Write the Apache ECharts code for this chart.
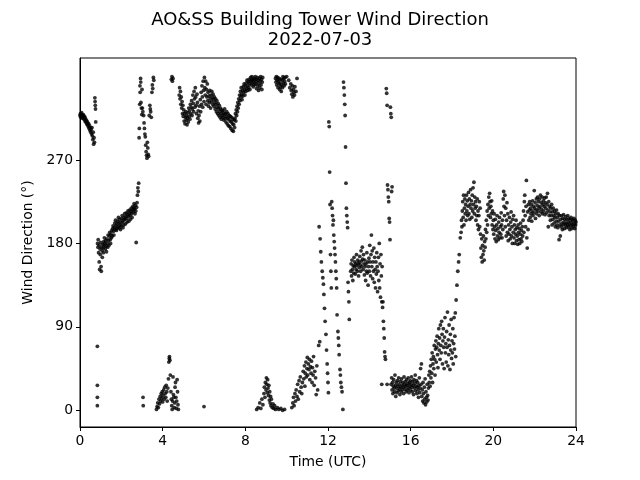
<!DOCTYPE html>
<html><head><meta charset="utf-8">
<script src="https://cdn.jsdelivr.net/npm/echarts@6/dist/echarts.min.js"></script>
<style>html,body{margin:0;padding:0;background:#fff}#c{width:640px;height:480px}</style>
</head><body><div id="c"></div>
<script>
const titleText = 'AO&SS Building Tower Wind Direction\n2022-07-03';
const xLabel = 'Time (UTC)';
const yLabel = 'Wind Direction (°)';
const xTicks = [0, 4, 8, 12, 16, 20, 24];
const yTicks = [0, 90, 180, 270];

// [hour UTC, direction deg]
const segEarly = [[0.00,318],[0.02,320],[0.04,316],[0.06,319],[0.08,321],[0.10,317],[0.12,315],[0.14,318],[0.16,319],[0.18,316],[0.20,314],[0.22,317],[0.24,312],[0.26,315],[0.28,311],[0.30,313],[0.32,309],[0.34,312],[0.36,308],[0.38,310],[0.40,306],[0.42,309],[0.44,304],[0.46,307],[0.48,302],[0.50,305],[0.52,300],[0.54,303],[0.56,298],[0.58,305],[0.60,296],[0.62,292],[0.64,300],[0.66,287],[0.68,294],[0.70,289],[0.72,337],[0.73,333],[0.74,329],[0.75,325],[0.76,311],[0.84,69],[0.84,27],[0.84,14],[0.84,5]];

const segRise = [[0.85,180],[0.87,176],[0.88,184],[0.90,170],[0.92,178],[0.93,160],[0.95,152],[0.97,174],[0.98,168],[1.00,181],[1.02,155],[1.03,150],[1.05,176],[1.07,172],[1.08,165],[1.10,179],[1.12,175],[1.13,170],[1.15,182],[1.17,178],[1.18,186],[1.20,180],[1.22,174],[1.24,183],[1.26,177],[1.28,171],[1.30,185],[1.32,180],[1.34,176],[1.36,189],[1.38,183],[1.40,178],[1.42,188],[1.44,192],[1.46,184],[1.48,180],[1.50,190],[1.52,186],[1.54,194],[1.56,188],[1.58,196],[1.60,199],[1.62,193],[1.64,189],[1.66,197],[1.68,202],[1.70,195],[1.72,205],[1.74,199],[1.76,194],[1.78,201],[1.80,196],[1.82,204],[1.84,198],[1.86,208],[1.88,202],[1.90,197],[1.92,206],[1.94,200],[1.96,195],[1.98,203],[2.00,199],[2.02,207],[2.04,210],[2.06,203],[2.08,197],[2.10,205],[2.12,200],[2.14,208],[2.16,212],[2.18,206],[2.20,201],[2.22,209],[2.24,213],[2.26,207],[2.28,203],[2.30,211],[2.32,215],[2.34,209],[2.36,204],[2.38,212],[2.40,216],[2.42,210],[2.44,206],[2.46,214],[2.48,218],[2.50,212],[2.52,208],[2.54,216],[2.56,220],[2.58,214],[2.60,218],[2.62,223],[2.64,217],[2.66,212],[2.68,221],[2.70,215],[2.72,181],[2.74,219],[2.76,224],[2.78,232],[2.80,240],[2.82,236],[2.84,245]];

const segJump = [[2.86,294],[2.87,304],[2.89,330],[2.90,350],[2.91,343],[2.93,358],[2.94,354],[2.95,332],[2.97,326],[2.99,319],[3.00,346],[3.02,326],[3.04,322],[3.05,14],[3.06,5],[3.08,318],[3.10,310],[3.12,304],[3.14,298],[3.16,295],[3.18,286],[3.20,279],[3.22,275],[3.24,272],[3.26,289],[3.28,283],[3.30,276],[3.32,274],[3.35,318],[3.38,329],[3.40,325],[3.42,322],[3.45,316],[3.48,343],[3.50,351],[3.52,347],[3.55,359],[3.57,356],[4.42,357],[4.45,360],[4.47,355],[4.50,358]];

const segLowMorning = [[3.70,1],[3.73,4],[3.76,8],[3.79,3],[3.82,12],[3.85,7],[3.88,15],[3.90,10],[3.93,18],[3.96,13],[3.98,20],[4.00,9],[4.02,16],[4.05,22],[4.07,12],[4.10,25],[4.12,18],[4.15,14],[4.17,27],[4.20,20],[4.22,10],[4.25,24],[4.28,34],[4.30,52],[4.32,56],[4.33,58],[4.35,54],[4.37,38],[4.40,20],[4.42,12],[4.44,5],[4.46,1],[4.48,10],[4.50,36],[4.52,17],[4.54,14],[4.56,3],[4.58,8],[4.60,25],[4.62,30],[4.64,14],[4.66,2],[4.68,10],[4.70,33],[4.72,20],[4.74,6],[4.76,1],[6.00,4]];

const segNorth = [[4.80,340],[4.82,348],[4.84,336],[4.86,344],[4.88,330],[4.90,338],[4.92,326],[4.94,333],[4.96,320],[4.98,329],[5.00,317],[5.02,324],[5.04,312],[5.06,320],[5.08,309],[5.10,316],[5.12,322],[5.14,313],[5.16,318],[5.18,308],[5.20,315],[5.22,321],[5.24,311],[5.26,326],[5.28,317],[5.30,323],[5.32,314],[5.34,330],[5.36,320],[5.38,327],[5.40,334],[5.42,318],[5.44,325],[5.46,340],[5.48,331],[5.50,322],[5.52,344],[5.54,336],[5.56,327],[5.58,348],[5.60,338],[5.62,329],[5.64,320],[5.66,341],[5.68,332],[5.70,315],[5.72,323],[5.74,310],[5.76,318],[5.78,328],[5.80,312],[5.82,335],[5.84,322],[5.86,343],[5.88,330],[5.90,350],[5.92,338],[5.94,327],[5.96,355],[5.98,345],[6.00,333],[6.02,359],[6.04,348],[6.06,340],[6.08,355],[6.10,330],[6.12,346],[6.14,338],[6.16,352],[6.18,334],[6.20,343],[6.22,328],[6.24,339],[6.26,332],[6.28,345],[6.30,336],[6.32,326],[6.34,340],[6.36,333],[6.38,344],[6.40,337],[6.42,330],[6.44,341],[6.46,335],[6.48,328],[6.50,338],[6.52,332],[6.54,325],[6.56,336],[6.58,330],[6.60,322],[6.62,334],[6.64,327],[6.66,320],[6.68,331],[6.70,325],[6.72,318],[6.74,329],[6.76,322],[6.78,316],[6.80,326],[6.82,320],[6.84,314],[6.86,324],[6.88,318],[6.90,323],[6.92,316],[6.94,321],[6.96,313],[6.98,319],[7.00,325],[7.02,315],[7.04,320],[7.06,311],[7.08,317],[7.10,322],[7.12,309],[7.14,315],[7.16,320],[7.18,307],[7.20,314],[7.22,318],[7.24,306],[7.26,312],[7.28,317],[7.30,304],[7.32,311],[7.34,316],[7.36,302],[7.38,309],[7.40,314],[7.42,301],[7.44,308],[7.46,313],[7.48,305],[7.50,315],[7.52,320],[7.54,312],[7.56,324],[7.58,318],[7.60,328],[7.62,322],[7.64,332],[7.66,326],[7.68,336],[7.70,330],[7.72,340],[7.74,334],[7.76,344],[7.78,338],[7.80,348],[7.82,341],[7.84,335],[7.86,345],[7.88,339],[7.90,349],[7.92,343],[7.94,352],[7.96,346],[7.98,340],[8.00,350],[8.02,344],[8.04,353],[8.06,347],[8.08,356],[8.10,350],[8.12,345],[8.14,354],[8.16,348],[8.18,357],[8.20,352],[8.22,346],[8.24,355],[8.26,359],[8.28,351],[8.30,356],[8.32,360],[8.34,353],[8.36,357],[8.38,349],[8.40,354],[8.42,358],[8.44,351],[8.46,356],[8.48,360],[8.50,352],[8.52,357],[8.54,347],[8.56,354],[8.58,359],[8.60,350],[8.62,356],[8.64,345],[8.66,352],[8.68,358],[8.70,348],[8.72,355],[8.74,360],[8.76,351],[8.78,357],[8.80,346],[8.82,354],[8.84,359],[9.46,358],[9.48,354],[9.50,360],[9.52,351],[9.54,356],[9.56,359],[9.58,348],[9.60,355],[9.62,352],[9.64,358],[9.66,346],[9.68,353],[9.70,349],[9.72,357],[9.74,344],[9.76,351],[9.78,356],[9.80,348],[9.82,360],[9.84,353],[9.86,358],[9.88,350],[9.90,355],[9.92,359],[9.94,352],[10.00,360],[10.10,356],[10.15,348],[10.20,352],[10.22,345],[10.25,341],[10.28,350],[10.30,338],[10.32,346],[10.35,343],[10.38,340],[10.40,349],[10.45,344],[10.50,358]];

const segLowMidday = [[8.55,1],[8.62,3],[8.70,8],[8.75,2],[8.80,12],[8.85,6],[8.90,18],[8.92,25],[8.95,14],[8.97,30],[9.00,22],[9.02,35],[9.04,28],[9.06,19],[9.08,33],[9.10,24],[9.12,16],[9.14,27],[9.16,11],[9.18,20],[9.20,8],[9.22,15],[9.24,5],[9.26,12],[9.30,3],[9.34,7],[9.38,2],[9.42,5],[9.46,1],[9.55,3],[9.62,1],[9.72,2],[9.80,0],[9.90,1],[10.25,3],[10.30,8],[10.33,14],[10.36,5],[10.40,18],[10.43,10],[10.46,22],[10.50,15],[10.53,28],[10.56,12],[10.60,32],[10.63,20],[10.66,36],[10.70,25],[10.73,18],[10.76,30],[10.80,42],[10.83,34],[10.86,48],[10.88,26],[10.90,40],[10.93,52],[10.95,36],[10.98,45],[11.00,57],[11.02,38],[11.05,50],[11.08,44],[11.10,55],[11.12,33],[11.15,47],[11.18,40],[11.20,53],[11.23,30],[11.25,46],[11.28,38],[11.30,58],[11.33,27],[11.36,42],[11.40,35],[11.43,17],[11.46,48],[11.50,22],[11.55,70],[11.60,74]];

const segSwing = [[11.57,198],[11.62,185],[11.65,171],[11.68,160],[11.72,150],[11.75,143],[11.78,136],[11.80,125],[11.83,110],[11.86,96],[11.90,82],[11.93,65],[11.96,50],[11.98,40],[12.00,30],[12.02,19],[12.04,311],[12.06,306],[12.08,257],[12.10,222],[12.12,168],[12.14,150],[12.16,132],[12.18,225],[12.20,218],[12.22,210],[12.24,200],[12.26,205],[12.28,189],[12.30,182],[12.32,175],[12.34,168],[12.36,160],[12.38,150],[12.40,142],[12.42,132],[12.44,103],[12.48,85],[12.50,78],[12.52,70],[12.54,60],[12.58,44],[12.60,38],[12.62,30],[12.65,25],[12.68,20],[12.72,1],[12.75,354],[12.77,348],[12.79,340],[12.81,330],[12.83,318],[12.85,284],[12.87,245],[12.89,218],[12.91,210],[12.93,203],[12.95,197],[12.97,138],[12.99,128],[13.01,117],[13.03,98]];

const segSouth = [[13.10,150],[13.12,158],[13.14,145],[13.16,162],[13.18,152],[13.20,140],[13.22,156],[13.24,148],[13.26,165],[13.28,155],[13.30,160],[13.32,147],[13.34,158],[13.36,152],[13.38,168],[13.40,156],[13.42,150],[13.44,162],[13.46,158],[13.48,145],[13.50,160],[13.52,154],[13.54,166],[13.56,157],[13.58,150],[13.60,172],[13.62,161],[13.64,155],[13.66,176],[13.68,163],[13.70,152],[13.72,168],[13.74,158],[13.76,146],[13.78,162],[13.80,155],[13.82,140],[13.84,158],[13.86,150],[13.88,170],[13.90,148],[13.92,160],[13.94,135],[13.96,155],[13.98,164],[14.00,150],[14.02,178],[14.04,160],[14.06,145],[14.08,168],[14.10,189],[14.12,155],[14.14,172],[14.16,142],[14.18,160],[14.20,150],[14.22,175],[14.24,138],[14.26,165],[14.28,152],[14.30,132],[14.32,160],[14.34,147],[14.36,170],[14.38,155],[14.40,128],[14.42,150],[14.44,165],[14.46,140],[14.48,180],[14.50,132],[14.52,158],[14.54,122],[14.56,168],[14.58,145],[14.60,117],[14.62,155],[14.60,28],[14.64,111],[14.66,117],[14.68,96],[14.70,88],[14.72,78],[14.74,63],[14.76,58],[14.78,55],[14.82,347],[14.84,342],[14.86,329],[14.86,28],[14.88,243],[14.90,238],[14.92,230],[14.94,225],[14.96,207],[14.98,203],[15.00,184],[15.02,327],[15.04,320],[15.06,316],[15.08,236],[15.10,241]];

const segLowAfternoon = [[15.05,28],[15.08,35],[15.10,22],[15.12,30],[15.14,18],[15.16,26],[15.18,33],[15.20,24],[15.22,20],[15.24,38],[15.26,27],[15.28,15],[15.30,30],[15.32,24],[15.34,19],[15.36,32],[15.38,26],[15.40,21],[15.42,35],[15.44,28],[15.46,23],[15.48,17],[15.50,31],[15.52,25],[15.54,20],[15.56,34],[15.58,27],[15.60,22],[15.62,30],[15.64,25],[15.66,18],[15.68,36],[15.70,28],[15.72,23],[15.74,31],[15.76,26],[15.78,20],[15.80,33],[15.82,27],[15.84,22],[15.86,29],[15.88,35],[15.90,24],[15.92,19],[15.94,30],[15.96,26],[15.98,32],[16.00,22],[16.02,28],[16.04,36],[16.06,25],[16.08,20],[16.10,31],[16.12,27],[16.14,17],[16.16,33],[16.18,24],[16.20,29],[16.22,38],[16.24,21],[16.26,26],[16.28,32],[16.30,18],[16.32,25],[16.34,30],[16.36,22],[16.38,14],[16.40,27],[16.42,35],[16.44,19],[16.46,24],[16.48,45],[16.50,28],[16.52,50],[16.54,15],[16.56,22],[16.58,10],[16.60,30],[16.62,18],[16.64,8],[16.66,25],[16.68,12],[16.70,34],[16.72,6],[16.74,20],[16.76,14],[16.78,9],[16.80,28],[16.82,16],[16.84,11],[16.86,24],[16.88,38],[16.90,30],[16.92,42],[16.94,26],[16.96,48],[16.98,35]];

const segVeer = [[17.00,55],[17.02,40],[17.04,62],[17.06,30],[17.08,50],[17.10,58],[17.12,45],[17.14,70],[17.16,55],[17.18,38],[17.20,66],[17.22,75],[17.24,52],[17.26,68],[17.28,80],[17.30,60],[17.32,46],[17.34,72],[17.36,88],[17.38,65],[17.40,78],[17.42,55],[17.44,92],[17.46,70],[17.48,62],[17.50,96],[17.52,82],[17.54,50],[17.56,75],[17.58,88],[17.60,68],[17.62,45],[17.64,79],[17.66,100],[17.68,62],[17.70,72],[17.72,52],[17.74,85],[17.76,68],[17.78,106],[17.80,48],[17.82,76],[17.84,60],[17.86,92],[17.88,70],[17.90,44],[17.92,82],[17.94,65],[17.96,98],[17.98,56],[18.00,75],[18.02,62],[18.04,88],[18.06,50],[18.08,72],[18.10,100],[18.12,66],[18.14,80],[18.16,105],[18.18,58],[18.20,119],[18.24,135],[18.28,150],[18.32,160],[18.35,168],[18.40,186],[18.44,192],[18.46,205],[18.48,198],[18.50,215],[18.52,225],[18.54,208],[18.56,232],[18.58,200],[18.60,218],[18.62,228],[18.64,212],[18.66,222],[18.68,205],[18.70,232],[18.72,215],[18.74,226],[18.76,210],[18.78,220],[18.80,235],[18.82,212],[18.84,228],[18.86,206],[18.88,222],[18.90,238],[18.92,218],[18.94,226],[18.96,208],[18.98,232],[19.00,215],[19.02,240],[19.04,222],[19.06,246],[19.08,212],[19.10,230],[19.12,218],[19.14,225],[19.16,205],[19.18,220],[19.20,210],[19.22,228],[19.24,200],[19.26,215],[19.28,195],[19.30,210],[19.32,225],[19.34,198],[19.36,218],[19.38,190],[19.40,175],[19.42,165],[19.44,185],[19.46,160],[19.48,178],[19.50,168],[19.52,188],[19.54,172],[19.56,162],[19.58,182],[19.60,176],[19.62,195],[19.64,185],[19.66,205],[19.68,192],[19.70,215],[19.72,200],[19.74,222],[19.76,210],[19.78,230],[19.80,218],[19.82,234],[19.84,225],[19.86,208],[19.88,220],[19.90,212],[19.92,226],[19.94,200],[19.96,215],[19.98,195]];

const segEvening = [[20.00,205],[20.02,190],[20.04,212],[20.06,198],[20.08,185],[20.10,206],[20.12,194],[20.14,182],[20.16,200],[20.18,210],[20.20,188],[20.22,196],[20.24,184],[20.26,203],[20.28,192],[20.30,208],[20.32,186],[20.34,198],[20.36,190],[20.38,213],[20.40,200],[20.42,186],[20.44,205],[20.46,195],[20.48,228],[20.50,236],[20.52,220],[20.54,210],[20.56,232],[20.58,198],[20.60,218],[20.62,188],[20.64,205],[20.66,224],[20.68,192],[20.70,212],[20.72,183],[20.74,200],[20.76,190],[20.78,208],[20.80,195],[20.82,185],[20.84,203],[20.86,214],[20.88,188],[20.90,198],[20.92,180],[20.94,206],[20.96,192],[20.98,210],[21.00,186],[21.02,200],[21.04,180],[21.06,195],[21.08,190],[21.10,205],[21.12,183],[21.14,197],[21.16,188],[21.18,179],[21.20,200],[21.22,192],[21.24,184],[21.26,196],[21.28,180],[21.30,190],[21.32,202],[21.34,185],[21.36,194],[21.38,182],[21.40,198],[21.42,188],[21.44,205],[21.46,215],[21.48,192],[21.50,225],[21.52,232],[21.54,210],[21.56,198],[21.58,220],[21.60,248],[21.62,186],[21.64,175],[21.66,214],[21.68,195],[21.70,222],[21.72,205],[21.74,216],[21.76,225],[21.78,208],[21.80,218],[21.82,212],[21.84,222],[21.86,204],[21.88,215],[21.90,226],[21.92,210],[21.94,220],[21.96,213],[21.98,237],[22.00,218],[22.02,224],[22.04,207],[22.06,216],[22.08,228],[22.10,212],[22.12,221],[22.14,230],[22.16,215],[22.18,225],[22.20,218],[22.22,210],[22.24,228],[22.26,220],[22.28,232],[22.30,214],[22.32,224],[22.34,217],[22.36,230],[22.38,212],[22.40,222],[22.42,226],[22.44,215],[22.46,220],[22.48,229],[22.50,211],[22.52,224],[22.54,218],[22.56,230],[22.58,213],[22.60,222],[22.62,234],[22.64,216],[22.66,198],[22.68,225],[22.70,210],[22.72,220],[22.74,214],[22.76,205],[22.78,218],[22.80,210],[22.82,222],[22.84,200],[22.86,214],[22.88,206],[22.90,218],[22.92,210],[22.94,202],[22.96,215],[22.98,208],[23.00,198],[23.02,212],[23.04,204],[23.06,216],[23.08,200],[23.10,208],[23.12,197],[23.14,212],[23.16,204],[23.18,184],[23.20,210],[23.22,200],[23.24,188],[23.26,206],[23.28,198],[23.30,210],[23.32,202],[23.34,195],[23.36,207],[23.38,200],[23.40,211],[23.42,203],[23.44,196],[23.46,206],[23.48,200],[23.50,209],[23.52,202],[23.54,197],[23.56,206],[23.58,200],[23.60,210],[23.62,203],[23.64,198],[23.66,207],[23.68,201],[23.70,195],[23.72,205],[23.74,199],[23.76,208],[23.78,202],[23.80,196],[23.82,206],[23.84,200],[23.86,204],[23.88,198],[23.90,207],[23.92,201],[23.94,196],[23.96,205],[23.98,200],[24.00,203]];

const windData = [].concat(segEarly, segRise, segJump, segLowMorning, segNorth, segLowMidday, segSwing, segSouth, segLowAfternoon, segVeer, segEvening);

const chart = echarts.init(document.getElementById('c'), null, {renderer: 'canvas'});
const font = 'DejaVu Sans';
chart.setOption({
  animation: false,
  backgroundColor: '#ffffff',
  title: {
    text: titleText, left: 'center', top: 5,
    textStyle: {fontFamily: font, fontSize: 18, fontWeight: 'normal', color: '#000', lineHeight: 20}
  },
  grid: {left: 80, right: 64, top: 58, bottom: 53, show: true, borderColor: '#000', borderWidth: 1, backgroundColor: 'transparent'},
  xAxis: {
    type: 'value', min: 0, max: 24, interval: 4,
    name: xLabel, nameLocation: 'middle', nameGap: 28,
    nameTextStyle: {fontFamily: font, fontSize: 13.9, color: '#000'},
    axisLine: {show: true, onZero: false, lineStyle: {color: '#000', width: 1}},
    axisTick: {show: true, inside: false, length: 4, lineStyle: {color: '#000'}},
    axisLabel: {fontFamily: font, fontSize: 13.9, color: '#000', margin: 7, formatter: v => xTicks.includes(v) ? String(v) : ''},
    splitLine: {show: false}
  },
  yAxis: {
    type: 'value', min: -18, max: 380,
    name: yLabel, nameLocation: 'middle', nameGap: 36, nameRotate: 90,
    nameTextStyle: {fontFamily: font, fontSize: 13.9, color: '#000'},
    axisLine: {show: true, onZero: false, lineStyle: {color: '#000', width: 1}},
    axisTick: {show: true, inside: false, length: 4, customValues: yTicks, lineStyle: {color: '#000'}},
    axisLabel: {fontFamily: font, fontSize: 13.9, color: '#000', margin: 7, customValues: yTicks},
    splitLine: {show: false}
  },
  series: [{
    type: 'scatter', data: windData, symbol: 'circle', symbolSize: 3.8,
    itemStyle: {color: '#000'}, silent: true
  }]
});
</script></body></html>
